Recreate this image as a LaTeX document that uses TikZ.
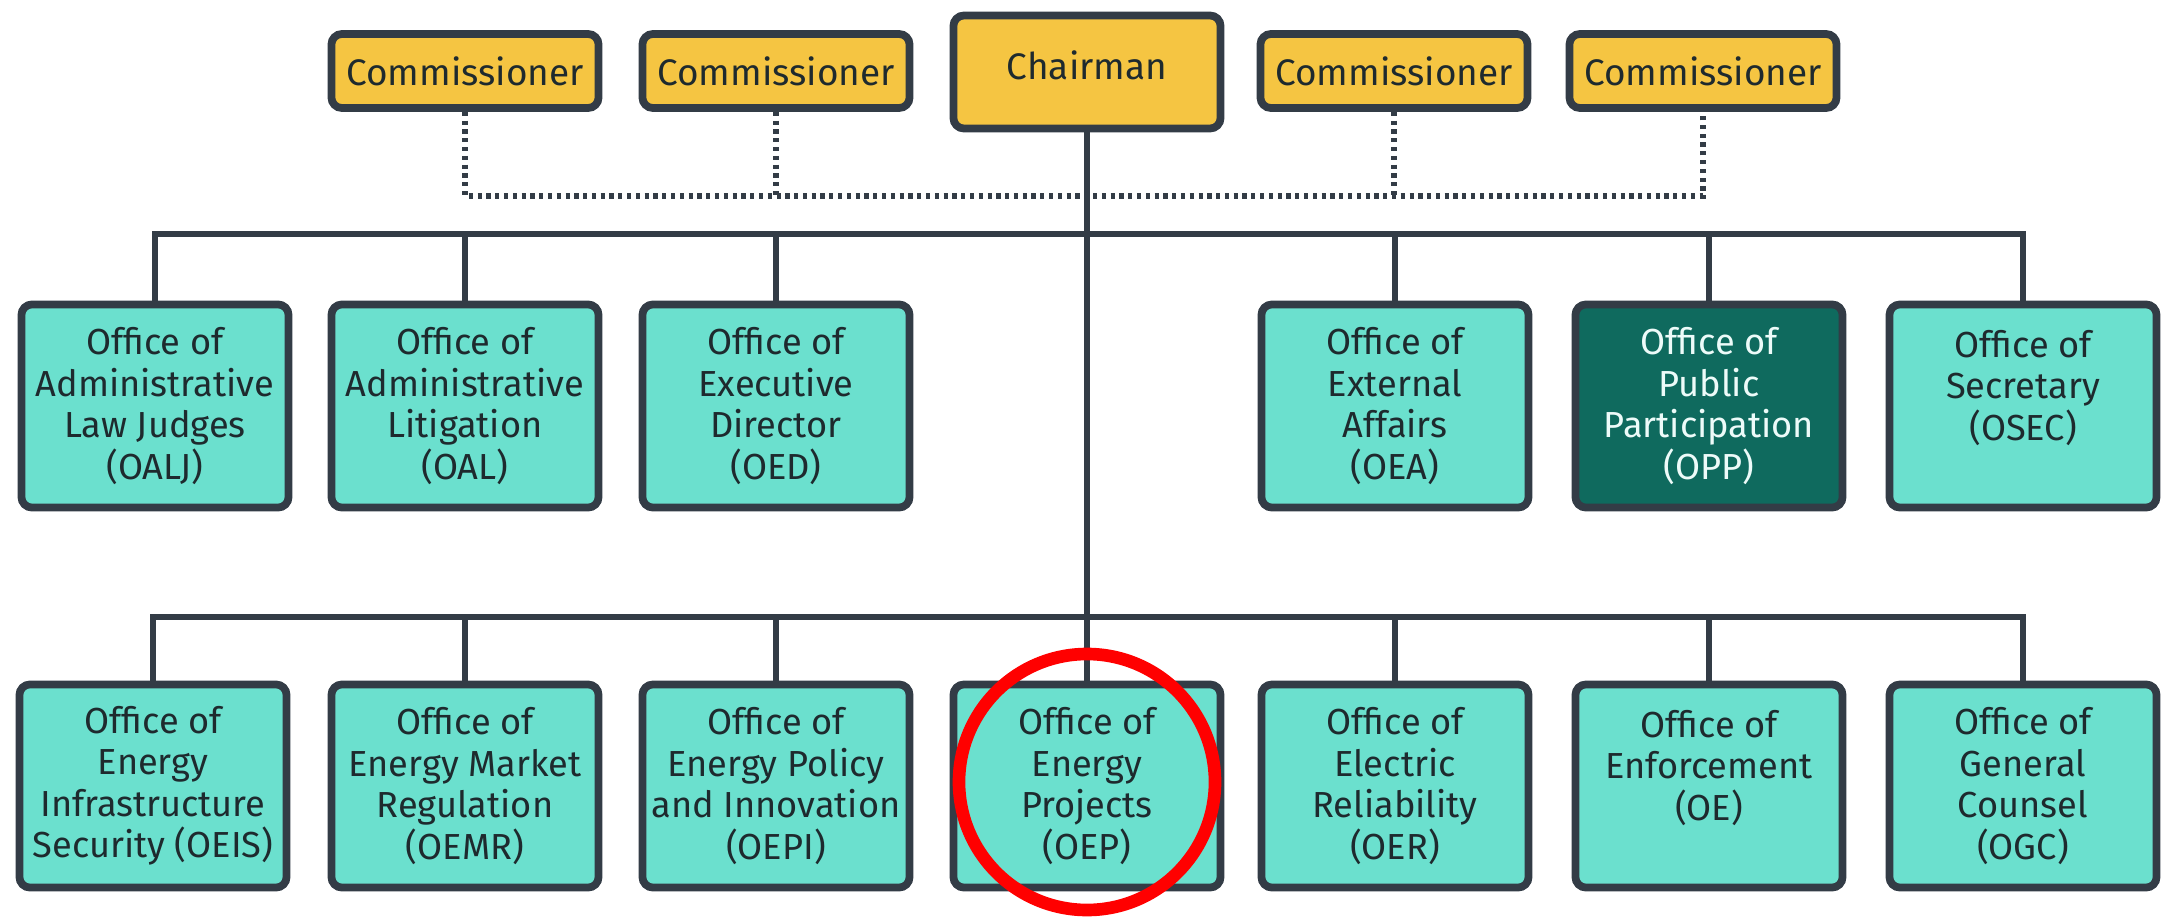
\documentclass[tikz,border=0pt]{standalone}
\usepackage{fontspec}
\setmainfont{Fira Sans}
\definecolor{gold}{HTML}{F5C542}
\definecolor{aqua}{HTML}{6BE0CE}
\definecolor{pine}{HTML}{0F6A5E}
\definecolor{slate}{HTML}{333C46}
\definecolor{ink}{HTML}{1E2A2E}
\begin{document}
\begin{tikzpicture}[x=0.01cm,y=-0.01cm,
  boss/.style={draw=slate,line width=2.2pt,rounded corners=3pt,fill=gold,text=ink,
    minimum width=2.67cm,minimum height=0.74cm,font=\fontsize{10.5}{12}\selectfont},
  office/.style={draw=slate,line width=2.2pt,rounded corners=3pt,fill=aqua,text=ink,
    minimum width=2.67cm,minimum height=2.03cm,align=center,inner sep=1pt,
    font=\fontsize{10.3}{11.8}\selectfont},
  wire/.style={draw=slate,line width=1.7pt},
  dots/.style={draw=slate,line width=1.8pt,dash pattern=on 1.2pt off 1.3pt}]
\useasboundingbox (0,0) rectangle (2163,921);

\foreach \name/\x in {com1/465,com2/776,com3/1394,com4/1703}
\node[boss] (\name) at (\x,71) {Commissioner};
\node[boss,minimum height=1.13cm,text depth=4pt] (chair) at (1087,72) {Chairman};

\foreach \name/\x/\txt in {
  oalj/155/{Office of\\Administrative\\Law Judges\\(OALJ)},
  oal/465/{Office of\\Administrative\\Litigation\\(OAL)},
  oed/776/{Office of\\Executive\\Director\\(OED)},
  oea/1395/{Office of\\External\\Affairs\\(OEA)},
  osec/2023/{Office of\\Secretary\\(OSEC)\\~}}
\node[office] (\name) at (\x,406) {\txt};
\node[office,fill=pine,text=white!88!aqua] (opp) at (1709,406) {Office of\\Public\\Participation\\(OPP)};

\foreach \name/\x/\txt in {
  oeis/153/{Office of\\Energy\\Infrastructure\\Security (OEIS)},
  oemr/465/{Office of\\Energy Market\\Regulation\\(OEMR)},
  oepi/776/{Office of\\Energy Policy\\and Innovation\\(OEPI)},
  oep/1087/{Office of\\Energy\\Projects\\(OEP)},
  oer/1395/{Office of\\Electric\\Reliability\\(OER)},
  oe/1709/{Office of\\Enforcement\\(OE)\\~},
  ogc/2023/{Office of\\General\\Counsel\\(OGC)}}
\node[office] (\name) at (\x,786) {\txt};

\coordinate (dotbus) at (1087,196);
\coordinate (midbus) at (1087,234);
\coordinate (lowbus) at (1087,617);

% commissioners
\draw[dots] (com1.south) -- (com1.south |- dotbus) -- (com4.south |- dotbus) -- (com4.south);
\foreach \c in {com2,com3}
\draw[dots] (\c.south) -- (\c.south |- dotbus);

\draw[wire] (chair.south) -- (oep.north);

% offices
\draw[wire] (oalj.north) -- (oalj.north |- midbus) -- (osec.north |- midbus) -- (osec.north);
\foreach \o in {oal,oed,oea,opp}
\draw[wire] (\o.north) -- (\o.north |- midbus);
\draw[wire] (oeis.north) -- (oeis.north |- lowbus) -- (ogc.north |- lowbus) -- (ogc.north);
\foreach \o in {oemr,oepi,oer,oe}
\draw[wire] (\o.north) -- (\o.north |- lowbus);

\draw[red,line width=3.6pt] (oep.center) ++(0,-4) circle[radius=128];
\end{tikzpicture}
\end{document}
